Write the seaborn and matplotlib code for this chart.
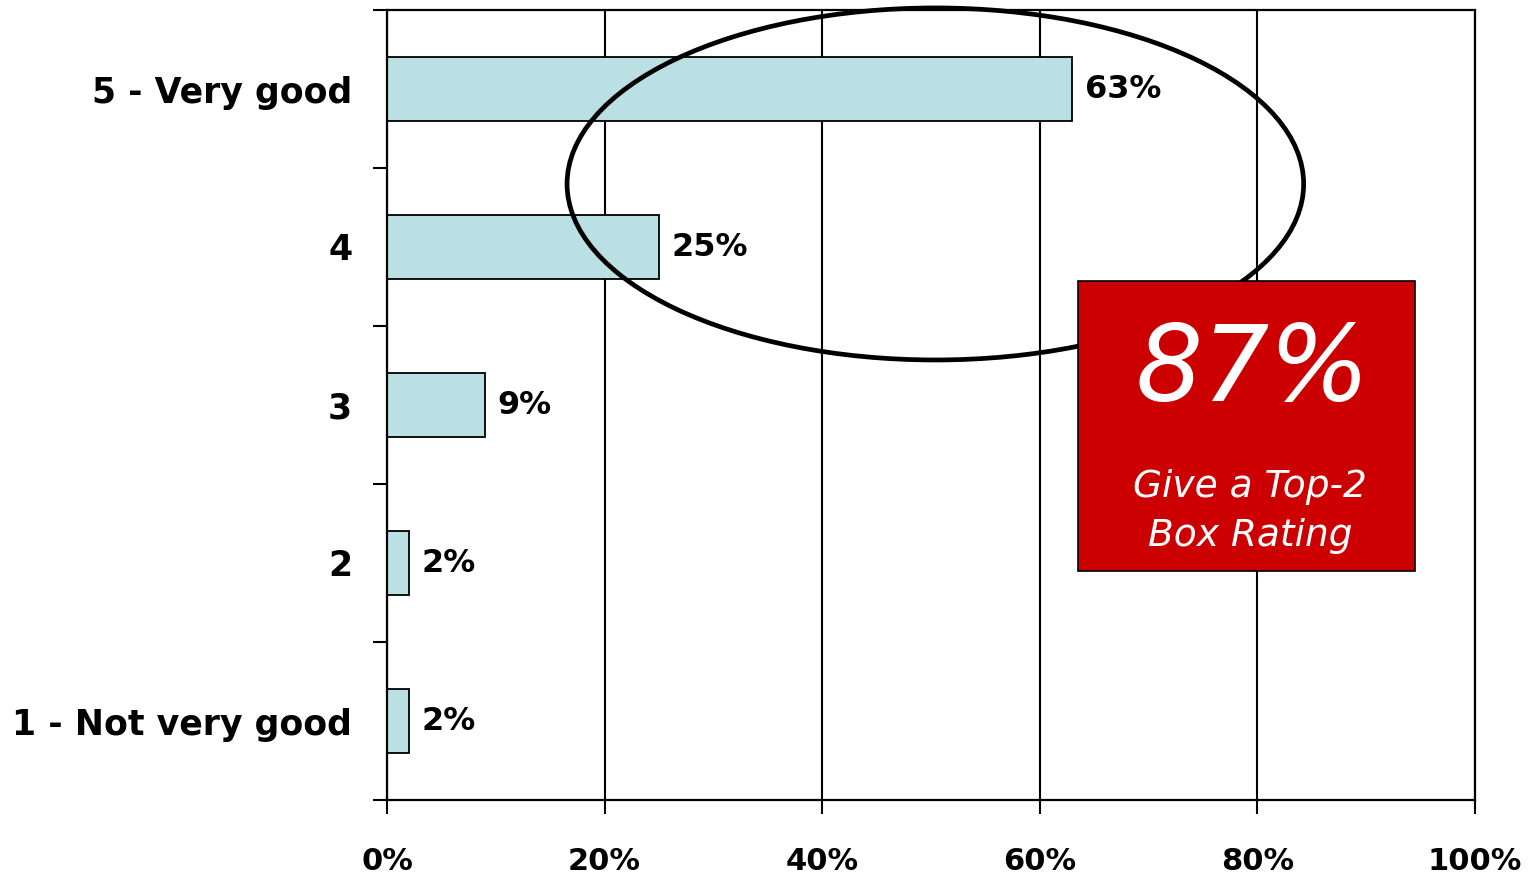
import matplotlib
matplotlib.use("Agg")
import matplotlib.pyplot as plt
from matplotlib.patches import Ellipse, Rectangle
import seaborn as sns
import pandas as pd
import numpy as np

categories = ["5 - Very good", "4", "3", "2", "1 - Not very good"]
values = [63, 25, 9, 2, 2]
x_ticks = [0, 20, 40, 60, 80, 100]
x_tick_labels = ["0%", "20%", "40%", "60%", "80%", "100%"]
top2_value = "87%"
top2_caption = "Give a Top-2\nBox Rating"

sns.set_theme(style="white")
plt.rcParams['font.family'] = ['DejaVu Sans']
plt.rcParams['text.color'] = 'black'
plt.rcParams['xtick.color'] = 'black'
plt.rcParams['ytick.color'] = 'black'

df = pd.DataFrame({"rating": categories, "pct": values})

fig = plt.figure(figsize=(15.38, 8.77), dpi=100)
ax = fig.add_axes([387/1538, 1-800/877, (1475-387)/1538, (800-10)/877])

sns.barplot(data=df, y="rating", x="pct", orient="h", ax=ax, order=categories,
            color="#BAE0E3", edgecolor="black", linewidth=1.3, width=0.41,
            saturation=1)

ax.set_xlim(0, 100)
ax.set_ylim(len(categories) - 0.5, -0.5)
ax.set_xlabel("")
ax.set_ylabel("")

ax.set_axisbelow(True)
ax.grid(axis="x", color="black", linewidth=1.5)
ax.grid(axis="y", visible=False)

for sp in ax.spines.values():
    sp.set_visible(True)
    sp.set_color("black")
    sp.set_linewidth(1.6)

ax.set_xticks(x_ticks)
ax.set_xticklabels(x_tick_labels, fontsize=22, fontweight="bold", color="black")
ax.tick_params(axis="x", direction="out", length=10, width=1.5, color="black",
               pad=24, bottom=True, labelcolor="black")

ax.set_yticks(range(len(categories)))
ax.set_yticklabels(categories, fontsize=25, fontweight="bold", color="black",
                   va="center_baseline")
ax.tick_params(axis="y", which="major", length=0, pad=25, labelcolor="black")
ax.set_yticks(np.arange(-0.5, len(categories), 1.0), minor=True)
ax.tick_params(axis="y", which="minor", direction="out", length=10, width=1.5,
               color="black", left=True)

for cont in ax.containers:
    ax.bar_label(cont, labels=[f"{v}%" for v in values], padding=9,
                 fontsize=23, fontweight="bold", color="black")

ell = Ellipse((50.4, 0.601), 67.7, 2.228, fill=False, edgecolor="black",
              linewidth=3.4, clip_on=False, zorder=5)
ax.add_patch(ell)

box = Rectangle((63.5, 1.215), 31.0, 1.835, facecolor="#CC0000",
                edgecolor="black", linewidth=1.2, zorder=6)
ax.add_patch(box)
ax.text(79.6, 1.79, top2_value, ha="center", va="center", color="white",
        fontsize=76, fontstyle="italic", zorder=7)
ax.text(79.3, 2.674, top2_caption, ha="center", va="center", color="white",
        fontsize=27, fontstyle="italic", zorder=7, linespacing=1.45)

fig.savefig("out.png", dpi=100)
